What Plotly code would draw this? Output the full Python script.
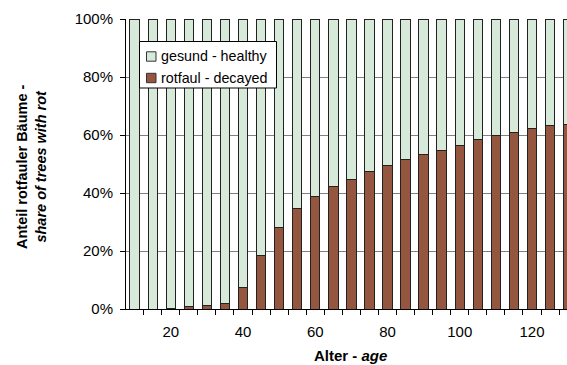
import plotly.graph_objects as go

# ---------------------------------------------------------------------------
# Data
# ---------------------------------------------------------------------------

ages = [10, 15, 20, 25, 30, 35, 40, 45, 50, 55, 60, 65, 70,
        75, 80, 85, 90, 95, 100, 105, 110, 115, 120, 125, 130]
share_rot = [0.000, 0.000, 0.003, 0.008, 0.011, 0.018, 0.073, 0.186, 0.281,
             0.345, 0.387, 0.424, 0.446, 0.473, 0.494, 0.514, 0.532, 0.546,
             0.563, 0.583, 0.600, 0.609, 0.623, 0.632, 0.637]
share_healthy = [1 - v for v in share_rot]

x_ticks = [20, 40, 60, 80, 100, 120]
legend_names = ["gesund - healthy", "rotfaul - decayed"]

FONT = "Liberation Sans, Arial, sans-serif"
GREEN = "#d7eada"
BROWN = "#94563f"
EDGE = "#222222"

W, H = 567, 365
L, R, T, B = 126, 0, 19, 56
pw, ph = W - L - R, H - T - B


def px_x(p):
    """Pixel x -> paper x."""
    return (p - L) / pw


def px_y(p):
    """Pixel y -> paper y."""
    return (H - B - p) / ph


fig = go.Figure()
fig.add_trace(go.Bar(
    x=ages, y=share_rot, name=legend_names[1], width=2.6,
    marker=dict(color=BROWN, line=dict(color=EDGE, width=1)),
))
fig.add_trace(go.Bar(
    x=ages, y=share_healthy, name=legend_names[0], width=2.6,
    marker=dict(color=GREEN, line=dict(color=EDGE, width=1)),
))

# Hand-drawn legend box (Excel-style, tighter than plotly's own)
shapes = [dict(
    type="rect", xref="paper", yref="paper",
    x0=px_x(139.5), x1=px_x(276.5), y0=px_y(88), y1=px_y(41.5),
    fillcolor="white", line=dict(color="black", width=1), layer="above",
)]
annotations = []
for i, (name, col) in enumerate(zip(legend_names, [GREEN, BROWN])):
    yc = 56.5 + i * 21.5
    shapes.append(dict(
        type="rect", xref="paper", yref="paper",
        x0=px_x(146.5), x1=px_x(156), y0=px_y(yc + 4.7), y1=px_y(yc - 4.7),
        fillcolor=col, line=dict(color="#333333", width=1), layer="above",
    ))
    annotations.append(dict(
        text=name, xref="paper", yref="paper", x=px_x(158.5), y=px_y(yc),
        xanchor="left", yanchor="middle", showarrow=False,
        font=dict(size=14.3),
    ))

annotations += [
    dict(
        text="<b>Anteil rotfauler Bäume -</b><br><b><i>share of trees with rot</i></b>",
        xref="paper", yref="paper", x=px_x(31), y=px_y(167),
        xanchor="center", yanchor="middle", textangle=-90,
        showarrow=False, font=dict(size=14.5),
    ),
    dict(
        text="<b>Alter - <i>age</i></b>",
        xref="paper", yref="paper", x=px_x(350), y=px_y(355.5),
        xanchor="center", yanchor="middle",
        showarrow=False, font=dict(size=15),
    ),
]

fig.update_layout(
    width=W, height=H,
    margin=dict(l=L, r=R, t=T, b=B, autoexpand=False),
    barmode="stack",
    plot_bgcolor="white", paper_bgcolor="white",
    font=dict(family=FONT, size=15, color="black"),
    showlegend=False,
    xaxis=dict(
        range=[7.6, 129.7], tickvals=x_ticks,
        ticks="outside", ticklen=9, tickcolor="rgba(0,0,0,0)",
        showgrid=False, showline=True, linecolor="black", linewidth=1,
        zeroline=False, automargin=False,
        minor=dict(tick0=7.5, dtick=5, ticks="outside", ticklen=5,
                   tickcolor="black", showgrid=False),
        tickfont=dict(size=15),
    ),
    yaxis=dict(
        range=[0, 1], dtick=0.2, tickformat=".0%", ticks="outside",
        ticklen=5, tickcolor="black", showline=True, linecolor="black",
        linewidth=1, showgrid=True, gridcolor="#808080", gridwidth=1,
        zeroline=False, automargin=False, tickfont=dict(size=15),
        ticklabelstandoff=4,
    ),
    shapes=shapes,
    annotations=annotations,
)

fig.write_html(
    "out.html",
    config={"displayModeBar": False},
    post_script="document.body.style.margin='0';document.body.style.overflow='hidden';",
)
